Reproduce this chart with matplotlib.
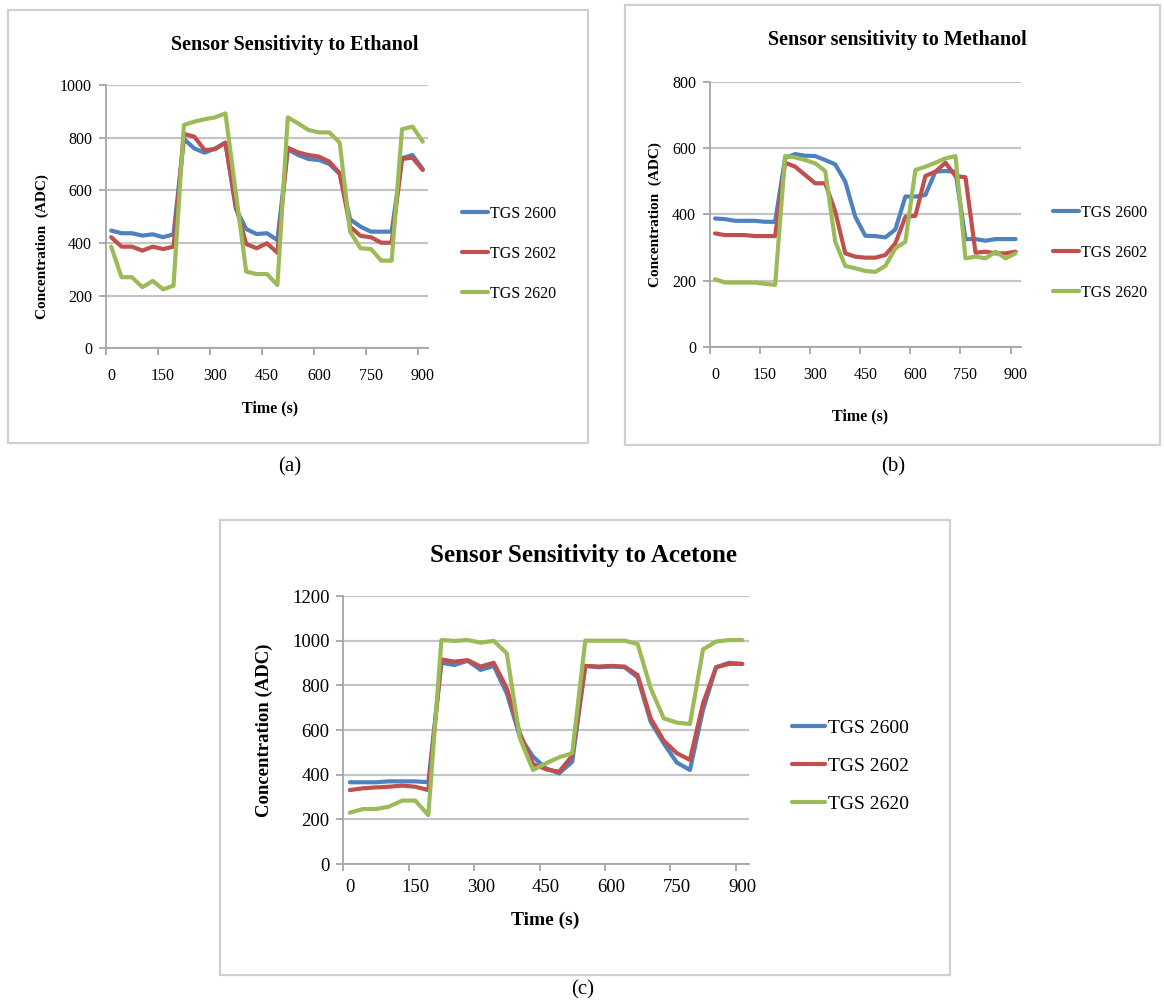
import matplotlib
matplotlib.use("Agg")
import matplotlib.pyplot as plt
from matplotlib.patches import Rectangle

# ---------------- data ----------------
time_labels = ["0", "150", "300", "450", "600", "750", "900"]
series_names = ["TGS 2600", "TGS 2602", "TGS 2620"]

eth_2600 = [447, 437, 437, 428, 433, 422, 433, 795, 759, 743, 759, 781, 530, 453, 434, 437,
            411, 756, 734, 719, 715, 700, 662, 490, 462, 443, 443, 443, 722, 734, 680]
eth_2602 = [422, 386, 386, 371, 386, 377, 386, 814, 804, 753, 756, 781, 540, 396, 380, 399,
            363, 762, 744, 734, 728, 709, 665, 462, 427, 422, 401, 401, 719, 724, 677]
eth_2620 = [386, 270, 270, 232, 256, 224, 238, 848, 861, 870, 877, 892, 590, 291, 282, 282,
            240, 877, 854, 829, 820, 820, 781, 443, 380, 377, 333, 333, 832, 842, 785]

met_2600 = [388, 386, 381, 381, 381, 378, 378, 570, 582, 577, 576, 564, 551, 499, 393, 336,
            335, 331, 355, 454, 454, 459, 529, 531, 529, 326, 326, 321, 326, 326, 326]
met_2602 = [343, 338, 338, 338, 335, 335, 335, 556, 544, 519, 494, 494, 409, 283, 273, 270,
            270, 278, 313, 393, 396, 516, 529, 556, 516, 512, 285, 288, 283, 283, 288]
met_2620 = [205, 195, 195, 195, 195, 191, 188, 576, 572, 564, 554, 531, 318, 245, 238, 230,
            227, 245, 298, 318, 534, 544, 556, 569, 576, 268, 273, 268, 288, 268, 283]

ace_2600 = [366, 366, 366, 370, 370, 370, 366, 901, 891, 910, 869, 887, 764, 570, 481, 428,
            406, 458, 887, 881, 884, 881, 836, 637, 540, 454, 421, 690, 881, 901, 896]
ace_2602 = [331, 339, 343, 346, 351, 346, 331, 916, 906, 913, 884, 901, 787, 585, 448, 424,
            413, 485, 887, 884, 887, 884, 846, 652, 552, 496, 466, 719, 881, 896, 896]
ace_2620 = [230, 246, 246, 257, 284, 284, 219, 1003, 999, 1003, 991, 999, 943, 563, 421, 451,
            478, 496, 1000, 1000, 1000, 1000, 985, 787, 652, 633, 627, 961, 996, 1003, 1003]

eth_yticks = [0, 200, 400, 600, 800, 1000]
met_yticks = [0, 200, 400, 600, 800]
ace_yticks = [0, 200, 400, 600, 800, 1000, 1200]

colors = ["#4F81BD", "#C0504D", "#9BBB59"]

# ---------------- layout helpers ----------------
W, H = 1164, 1005
fig = plt.figure(figsize=(W / 100, H / 100), dpi=100)
fig.patch.set_facecolor("white")
SERIF = ["Liberation Serif", "DejaVu Serif"]


def rect(x0, y0, x1, y1):
    return [x0 / W, 1 - y1 / H, (x1 - x0) / W, (y1 - y0) / H]


def fp(x, y):
    return (x / W, 1 - y / H)


panels = [
    dict(box=(8, 10, 588, 443), plot=(106, 85, 428, 348.3),
         title="Sensor Sensitivity to Ethanol", title_xy=(295, 45), title_fs=14.5,
         ylabel="Concentration  (ADC)", ylabel_xy=(42, 247), ylabel_fs=11,
         xlabel_xy=(270, 408), xlabel_fs=11.5, tick_fs=11.5, xpad=14,
         leg_xy=(462, 254), leg_fs=11.5, leg_sp=1.5, leg_hl=1.6,
         cap="(a)", cap_xy=(290, 467),
         data=[eth_2600, eth_2602, eth_2620], yticks=eth_yticks),
    dict(box=(625, 5, 1160, 445), plot=(710, 81.7, 1020.6, 347.3),
         title="Sensor sensitivity to Methanol", title_xy=(897, 40), title_fs=14.5,
         ylabel="Concentration  (ADC)", ylabel_xy=(655, 215), ylabel_fs=11,
         xlabel_xy=(860, 416), xlabel_fs=11.5, tick_fs=11.5, xpad=14,
         leg_xy=(1053, 253), leg_fs=11.5, leg_sp=1.5, leg_hl=1.6,
         cap="(b)", cap_xy=(893, 467),
         data=[met_2600, met_2602, met_2620], yticks=met_yticks),
    dict(box=(220, 520, 950, 975), plot=(343.3, 596, 748.8, 864),
         title="Sensor Sensitivity to Acetone", title_xy=(583, 555), title_fs=18,
         ylabel="Concentration (ADC)", ylabel_xy=(264, 730), ylabel_fs=13.5,
         xlabel_xy=(545, 920), xlabel_fs=14, tick_fs=13.5, xpad=11,
         leg_xy=(792, 766), leg_fs=14, leg_sp=1.05, leg_hl=1.7,
         cap="(c)", cap_xy=(583, 990),
         data=[ace_2600, ace_2602, ace_2620], yticks=ace_yticks),
]

for p in panels:
    # chart frame
    bx0, by0, bx1, by1 = p["box"]
    x0, y0 = fp(bx0, by1)
    fig.patches.append(Rectangle((x0, y0), (bx1 - bx0) / W, (by1 - by0) / H,
                                 transform=fig.transFigure, fill=False,
                                 edgecolor="#D0D0D0", linewidth=1.6))

    ax = fig.add_axes(rect(*p["plot"]))
    n = len(p["data"][0])
    idx = list(range(n))
    handles = []
    for vals, c, name in zip(p["data"], colors, series_names):
        (ln,) = ax.plot(idx, vals, color=c, lw=3.0, solid_joinstyle="round",
                        solid_capstyle="round", label=name, zorder=3)
        handles.append(ln)

    ax.set_xlim(-0.5, n - 0.5)
    ax.set_ylim(p["yticks"][0], p["yticks"][-1])
    ax.set_yticks(p["yticks"])
    ax.set_yticklabels([str(v) for v in p["yticks"]], fontfamily=SERIF,
                       fontsize=p["tick_fs"])
    # major ticks: category boundaries, minor ticks: labelled categories
    ax.set_xticks([i - 0.5 for i in range(0, n, 5)])
    ax.set_xticklabels([""] * len(range(0, n, 5)))
    ax.set_xticks(list(range(0, n, 5)), minor=True)
    ax.set_xticklabels(time_labels, minor=True, fontfamily=SERIF,
                       fontsize=p["tick_fs"])
    ax.tick_params(axis="x", which="major", length=5, width=1.3, color="#A6A6A6",
                   direction="out")
    ax.tick_params(axis="x", which="minor", length=0, pad=p["xpad"])
    ax.tick_params(axis="y", length=5, width=1.3, color="#A6A6A6",
                   direction="out", pad=5)

    ax.grid(axis="y", color="#C4C4C4", lw=1.6, zorder=0)
    ax.set_axisbelow(True)
    for s in ("top", "right"):
        ax.spines[s].set_visible(False)
    for s in ("left", "bottom"):
        ax.spines[s].set_color("#A6A6A6")
        ax.spines[s].set_linewidth(1.3)
    ax.set_facecolor("white")

    # texts
    fig.text(*fp(*p["title_xy"]), p["title"], ha="center", va="center",
             fontfamily=SERIF, fontweight="bold", fontsize=p["title_fs"])
    fig.text(*fp(*p["ylabel_xy"]), p["ylabel"], ha="center", va="center",
             rotation=90, fontfamily=SERIF, fontweight="bold",
             fontsize=p["ylabel_fs"])
    fig.text(*fp(*p["xlabel_xy"]), "Time (s)", ha="center", va="center",
             fontfamily=SERIF, fontweight="bold", fontsize=p["xlabel_fs"])
    fig.text(*fp(*p["cap_xy"]), p["cap"], ha="center", va="center",
             fontfamily=SERIF, fontsize=15)

    leg = ax.legend(handles=handles, loc="center left",
                    bbox_to_anchor=fp(*p["leg_xy"]),
                    bbox_transform=fig.transFigure, frameon=False,
                    borderpad=0, borderaxespad=0, handlelength=p["leg_hl"],
                    handletextpad=0.15, labelspacing=p["leg_sp"],
                    prop={"family": SERIF, "size": p["leg_fs"]})

fig.savefig("out.png", dpi=100, facecolor="white")
